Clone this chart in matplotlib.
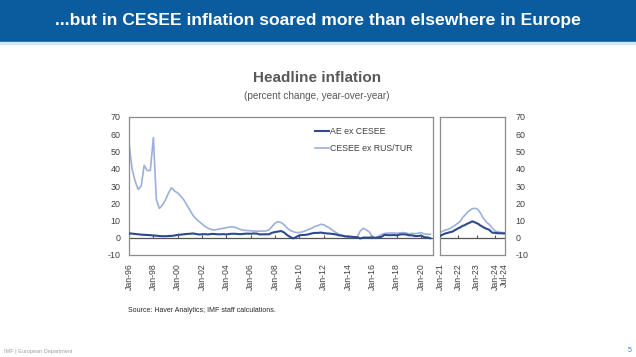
import matplotlib
matplotlib.use('Agg')
import matplotlib.pyplot as plt
import matplotlib.dates as mdates
import pandas as pd

plt.rcParams['font.family'] = ['Liberation Sans', 'DejaVu Sans']
plt.rcParams['axes.unicode_minus'] = False

# quarterly values, Jan-96 .. Oct-20
ae_main = [2.5, 2.4, 2.2, 2.0, 1.8, 1.7, 1.6, 1.5, 1.3, 1.2, 1.0, 0.9,
           0.9, 1.0, 1.1, 1.3, 1.7, 1.8, 2.0, 2.2, 2.3, 2.5, 2.2, 1.9,
           2.0, 2.1, 1.9, 2.2, 2.2, 2.0, 2.0, 2.1, 1.9, 2.2, 2.3, 2.3,
           2.1, 2.1, 2.3, 2.4, 2.3, 2.5, 2.4, 1.9, 2.0, 2.0, 2.0, 2.9,
           3.3, 3.6, 3.9, 3.0, 1.5, 0.4, -0.4, 0.5, 1.4, 1.6, 1.7, 2.0,
           2.5, 2.8, 2.8, 3.0, 2.7, 2.5, 2.4, 2.2, 1.9, 1.4, 1.3, 0.8,
           0.7, 0.6, 0.4, 0.3, -0.4, 0.1, 0.1, 0.1, 0.2, -0.1, 0.2, 0.6,
           1.7, 1.5, 1.5, 1.6, 1.4, 1.9, 2.0, 1.9, 1.4, 1.4, 1.0, 1.0,
           1.3, 0.3, 0.2, -0.3]
cesee_main = [54.7, 40, 33, 28, 30, 42, 39, 39, 58, 22, 17, 19,
              22, 26, 29, 27, 26, 24, 22, 19, 16, 13, 11, 9.5,
              8, 6.5, 5.5, 4.8, 4.5, 4.8, 5.2, 5.5, 5.8, 6.2, 6.3, 6.0,
              5.2, 4.6, 4.3, 4.2, 4.0, 3.9, 3.8, 3.8, 3.9, 3.9, 4.5, 6.5,
              8.5, 9.3, 8.8, 7.5, 5.5, 4.2, 3.5, 3.0, 3.0, 3.5, 4.0, 4.8,
              5.5, 6.5, 7.0, 7.8, 7.5, 6.5, 5.5, 4.2, 3.0, 2.0, 1.2, 0.8,
              0.6, 0.5, 0.3, 0.5, 4.0, 5.5, 4.5, 3.3, 0.3, 0.0, 0.8, 2.0,
              2.5, 2.7, 2.8, 2.8, 2.6, 2.8, 3.0, 2.8, 2.3, 2.5, 2.4, 2.6,
              3.0, 2.2, 2.0, 2.0]

# monthly values, Jan-21 .. Jul-24
ae_recent = [1.0, 1.5, 1.9, 2.3, 2.6, 2.8, 3.1, 3.3, 3.5, 4.0, 4.6, 5.0,
             5.6, 5.9, 6.5, 7.0, 7.2, 7.8, 8.2, 8.6, 9.0, 9.5, 9.2, 8.8,
             8.4, 8.0, 7.3, 6.8, 6.2, 5.8, 5.3, 5.0, 4.6, 3.8, 3.0, 2.9,
             2.8, 2.7, 2.6, 2.6, 2.6, 2.5, 2.5]
cesee_recent = [3.3, 3.5, 3.9, 4.3, 4.6, 4.8, 5.2, 5.6, 6.2, 6.8, 7.4, 8.0,
                8.7, 9.3, 10.5, 12.0, 12.8, 13.8, 14.8, 15.6, 16.2, 16.8, 17.0, 17.0,
                16.8, 16.0, 14.8, 13.3, 11.6, 10.5, 9.3, 8.5, 7.8, 6.8, 5.6, 4.8,
                3.9, 3.6, 3.4, 3.2, 3.0, 3.0, 2.9]

main_ticks = ['%d-01-01' % y for y in range(1996, 2021, 2)]
recent_ticks = ['2021-01-01', '2022-01-01', '2023-01-01', '2024-01-01', '2024-07-01']
y_ticks = [-10, 0, 10, 20, 30, 40, 50, 60, 70]

dates_main = pd.date_range('1996-01-01', periods=len(ae_main), freq='QS')
dates_recent = pd.date_range('2021-01-01', periods=len(ae_recent), freq='MS')

AE_COL = '#2c4a8c'
CE_COL = '#9dafdc'
TXT = '#404040'
GRID = '#8c8c8c'

fig = plt.figure(figsize=(6.36, 3.57), dpi=100)
W, H = 636, 357


def px_axes(x0, y0, x1, y1):
    return fig.add_axes([x0 / W, 1 - y1 / H, (x1 - x0) / W, (y1 - y0) / H])


# banner
banner = fig.add_axes([0, 1 - 42 / H, 1, 42 / H])
banner.set_axis_off()
banner.axhspan(0, 1, color='#0b5c9e')
banner.set_xlim(0, 1)
banner.set_ylim(0, 1)
fig.patches.append(plt.Rectangle((0, 1 - 44 / H), 1, 2 / H, transform=fig.transFigure,
                                 color='#d4e6f6', zorder=0))
fig.text(318 / W, 1 - 21 / H, '...but in CESEE inflation soared more than elsewhere in Europe',
         color='white', fontsize=12.6, fontweight='bold', ha='center', va='center')

fig.text(317 / W, 1 - 78 / H, 'Headline inflation', color='#595959', fontsize=11,
         fontweight='bold', ha='center', va='center')
fig.text(317 / W, 1 - 96 / H, '(percent change, year-over-year)', color='#595959',
         fontsize=7.2, ha='center', va='center')

ax1 = px_axes(129, 117, 433, 255)
ax2 = px_axes(440, 117, 504.5, 255)

ax1.plot(dates_main, ae_main, color=AE_COL, lw=1.5, label='AE ex CESEE', zorder=3)
ax1.plot(dates_main, cesee_main, color=CE_COL, lw=1.2, label='CESEE ex RUS/TUR', zorder=2)
ax2.plot(dates_recent, ae_recent, color=AE_COL, lw=1.5, zorder=3)
ax2.plot(dates_recent, cesee_recent, color=CE_COL, lw=1.2, zorder=2)

ax1.set_xlim(pd.Timestamp('1996-01-01'), pd.Timestamp('2020-12-20'))
ax2.set_xlim(pd.Timestamp('2021-01-01'), pd.Timestamp('2024-07-01'))

for ax, ticks in ((ax1, main_ticks), (ax2, recent_ticks)):
    tick_dates = pd.to_datetime(ticks)
    ax.set_ylim(-10, 70)
    ax.set_yticks(y_ticks)
    ax.set_xticks(tick_dates)
    ax.xaxis.set_major_formatter(mdates.DateFormatter('%b-%y'))
    ax.tick_params(axis='x', length=0, labelsize=6.3, labelcolor=TXT, rotation=90, pad=6)
    ax.tick_params(axis='y', length=0, labelsize=6.4, labelcolor=TXT, pad=6)
    ax.axhline(0, color='#555555', lw=0.9, zorder=1)
    ax.plot(tick_dates, [0] * len(tick_dates), ls='none', marker=2, ms=2.5,
            mew=0.8, color='#555555', zorder=1)
    for s in ax.spines.values():
        s.set_color(GRID)
        s.set_linewidth(0.9)

ax2.yaxis.tick_right()
ax2.tick_params(axis='y', pad=8)

ax1.legend(loc='upper left', bbox_to_anchor=(0.585, 0.985), frameon=False,
           fontsize=6.3, handlelength=1.6, handletextpad=0.1, labelspacing=0.9,
           labelcolor=TXT)

fig.text(128 / W, 1 - 311 / H, 'Source: Haver Analytics; IMF staff calculations.',
         fontsize=5, color='#262626', ha='left', va='center')
fig.text(4 / W, 1 - 351 / H, 'IMF | European Department', fontsize=4, color='#a0a0a0',
         ha='left', va='center')
fig.text(630 / W, 1 - 351 / H, '5', fontsize=5, color='#2f7fc1', ha='center', va='center')

fig.savefig('out.png', dpi=100)
